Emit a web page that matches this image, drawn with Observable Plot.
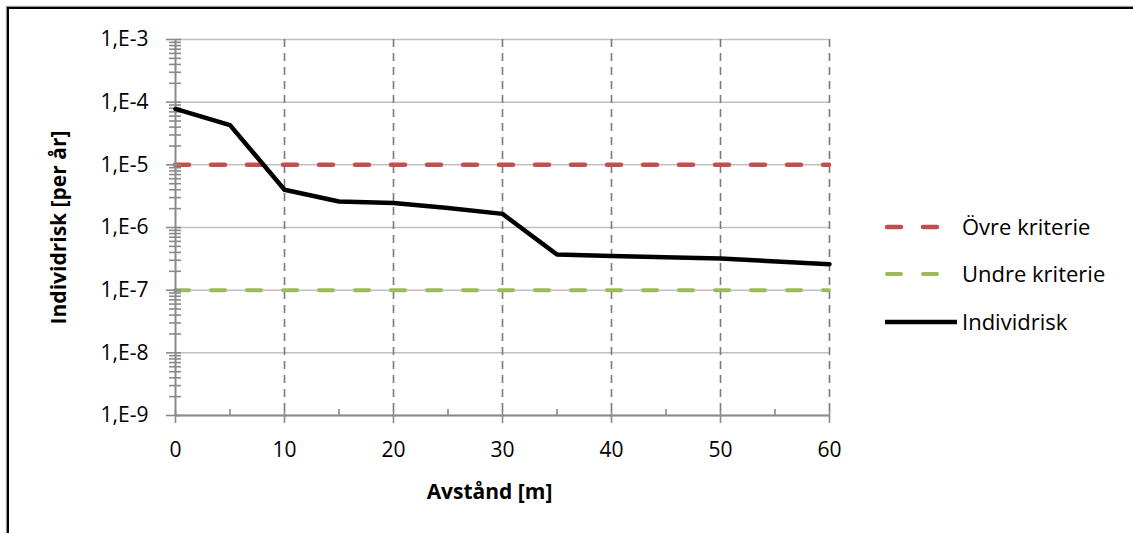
<!DOCTYPE html>
<html><head><meta charset="utf-8">
<script src="https://cdn.jsdelivr.net/npm/d3@7"></script>
<script src="https://cdn.jsdelivr.net/npm/@observablehq/plot@0.6"></script>
<style>
body{margin:0;background:#fff;}
#wrap{position:relative;width:1133px;height:533px;overflow:hidden;font-family:"Open Sans",sans-serif;background:#fff;}
#frame{position:absolute;left:7px;top:7px;width:1200px;height:600px;border-left:2px solid #000;border-top:2px solid #000;box-shadow:-1px -1px 1px #999;}
#chart{position:absolute;left:0;top:0;}
#legend{position:absolute;left:880px;top:205px;}
</style></head><body><div id="wrap"><div id="frame"></div><div id="chart"></div><div id="legend"></div></div>
<script>
// Data
const distance = [0, 5, 10, 15, 20, 25, 30, 35, 40, 50, 60];
const risk = [7.8e-5, 4.3e-5, 4.0e-6, 2.6e-6, 2.45e-6, 2.05e-6, 1.65e-6, 3.7e-7, 3.5e-7, 3.2e-7, 2.6e-7];
const upperCriterion = [1e-5];
const lowerCriterion = [1e-7];
const seriesNames = ["Övre kriterie", "Undre kriterie", "Individrisk"];
const seriesColors = ["#c0504d", "#9bbb59", "#000000"];
const xTicks = [0, 10, 20, 30, 40, 50, 60];
const xMinorTicks = [5, 15, 25, 35, 45, 55];
const yTicks = [1e-9, 1e-8, 1e-7, 1e-6, 1e-5, 1e-4, 1e-3];
const yTickLabels = ["1,E-9", "1,E-8", "1,E-7", "1,E-6", "1,E-5", "1,E-4", "1,E-3"];
const minorMultipliers = [2, 3, 4, 5, 6, 7, 8, 9];
const xLabel = "Avstånd [m]";
const yLabel = "Individrisk [per år]";

const yMinorTicks = yTicks.slice(0, -1).flatMap(d => minorMultipliers.map(m => m * d));
const riskData = distance.map((d, i) => ({distance: d, risk: risk[i]}));
const axisGray = "#8a8a8a";

const chart = Plot.plot({
  width: 1133, height: 533,
  marginLeft: 175, marginRight: 304, marginTop: 39, marginBottom: 118,
  style: {fontFamily: '"Open Sans", sans-serif', fontSize: "21px", color: "#000", background: "transparent", overflow: "visible"},
  x: {domain: [0, 60], axis: null},
  y: {type: "log", domain: [1e-9, 1e-3], axis: null},
  marks: [
    Plot.ruleY(yTicks, {stroke: "#c0c0c0", strokeWidth: 1.5}),
    Plot.ruleX(xTicks.slice(1), {stroke: "#7a7a7a", strokeWidth: 1.6, strokeDasharray: "8,6"}),
    Plot.ruleY(upperCriterion, {stroke: seriesColors[0], strokeWidth: 4.5, strokeDasharray: "14,22", strokeLinecap: "round"}),
    Plot.ruleY(lowerCriterion, {stroke: seriesColors[1], strokeWidth: 4, strokeDasharray: "14,22", strokeLinecap: "round"}),
    Plot.ruleX([0], {stroke: axisGray, strokeWidth: 2}),
    Plot.ruleY([1e-9], {stroke: axisGray, strokeWidth: 2}),
    // y ticks
    Plot.axisY(yTicks, {anchor: "left", label: null, tickSize: 15, dx: 6, tickFormat: () => "", stroke: axisGray, strokeWidth: 1.6}),
    Plot.axisY(yMinorTicks, {anchor: "left", label: null, tickSize: 12, dx: 6, tickFormat: () => "", stroke: axisGray, strokeWidth: 1.6}),
    Plot.axisY(yTicks, {anchor: "left", label: null, tickSize: 0, tickPadding: 27, tickFormat: d => yTickLabels[yTicks.indexOf(d)], fill: "#000", fontSize: 21}),
    // x ticks
    Plot.axisX(xTicks, {anchor: "bottom", label: null, tickSize: 13, dy: -5, tickFormat: () => "", stroke: axisGray, strokeWidth: 1.6}),
    Plot.axisX(xMinorTicks, {anchor: "bottom", label: null, tickSize: 6, dy: -6, tickFormat: () => "", stroke: axisGray, strokeWidth: 1.6}),
    Plot.axisX(xTicks, {anchor: "bottom", label: null, tickSize: 0, tickPadding: 27, tickFormat: d => String(d), fill: "#000", fontSize: 21}),
    Plot.line(riskData, {x: "distance", y: "risk", stroke: seriesColors[2], strokeWidth: 4.5, strokeLinejoin: "round"}),
    Plot.text([xLabel], {frameAnchor: "bottom", textAnchor: "middle", lineAnchor: "middle", dx: -13, dy: 77, fontWeight: "bold", fontSize: 21, fill: "#000"}),
    Plot.text([yLabel], {frameAnchor: "left", textAnchor: "middle", lineAnchor: "middle", rotate: -90, dx: -116, fontWeight: "bold", fontSize: 21, fill: "#000"})
  ]
});
document.getElementById("chart").appendChild(chart);

// Legend
const leg = d3.select("#legend").append("svg").attr("width", 250).attr("height", 140)
  .style("font-family", '"Open Sans", sans-serif').style("overflow", "visible");
const legY = [22, 69, 117];
seriesNames.forEach((name, i) => {
  const g = leg.append("g").attr("transform", `translate(0,${legY[i]})`);
  const ln = g.append("line").attr("x1", i < 2 ? 7 : 5).attr("x2", i < 2 ? 62 : 77).attr("y1", 0).attr("y2", 0)
    .attr("stroke", seriesColors[i]).attr("stroke-width", i === 1 ? 4 : 4.5).attr("stroke-linecap", i < 2 ? "round" : "butt");
  if (i < 2) ln.attr("stroke-dasharray", "14,22");
  g.append("text").attr("x", 82).attr("y", 0).attr("dy", "0.35em").attr("font-size", 22).attr("fill", "#000").text(name);
});
</script>
</body></html>
